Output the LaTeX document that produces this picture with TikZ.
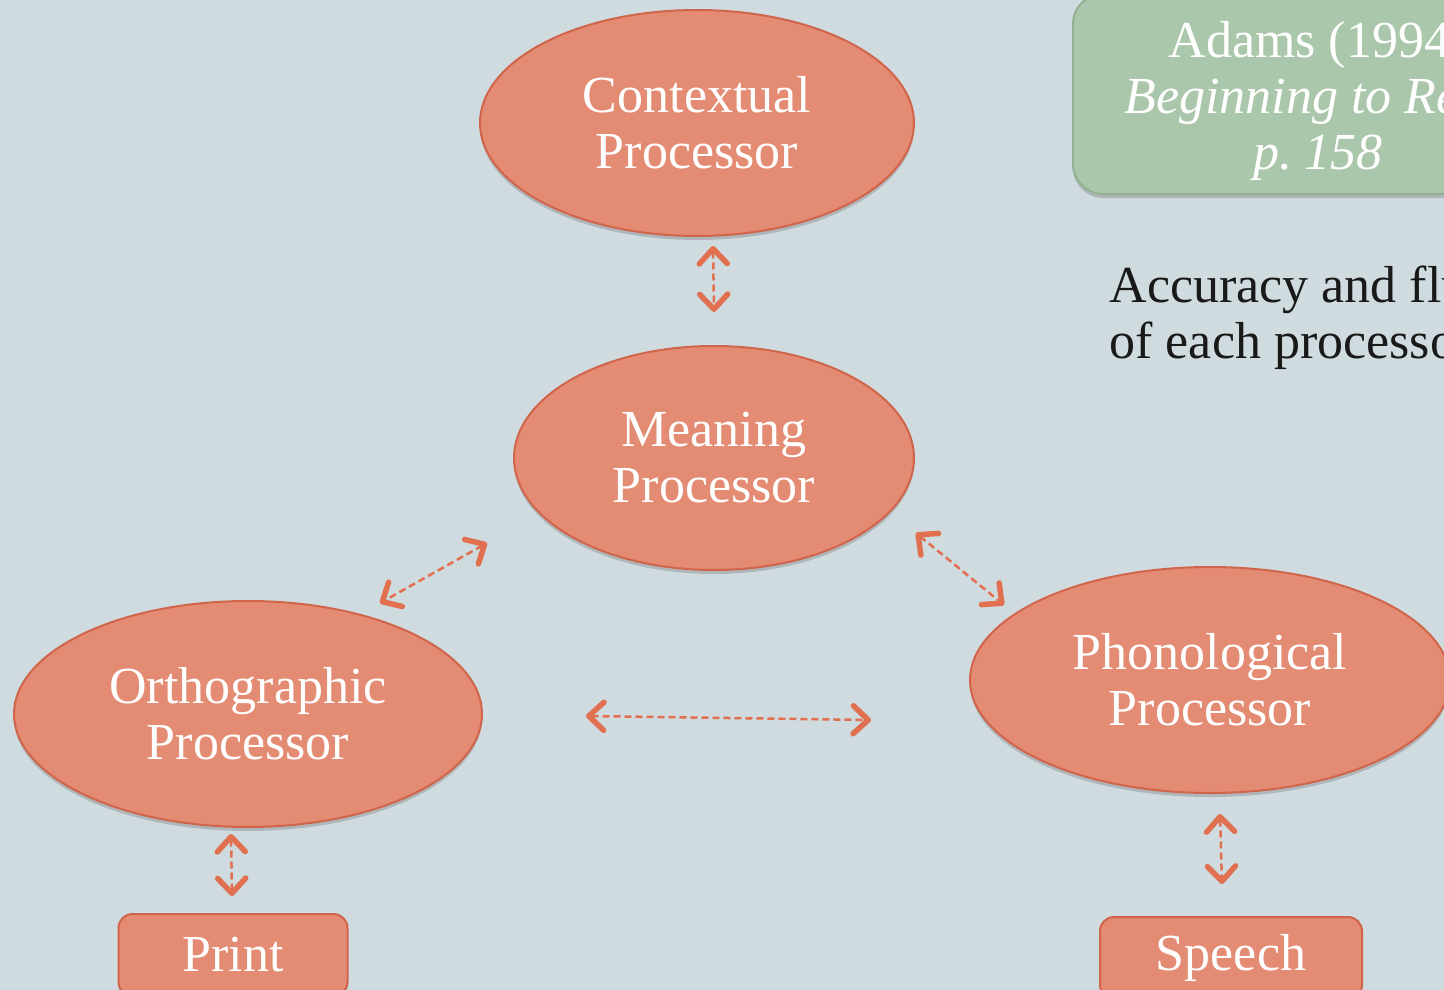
\documentclass[tikz,border=0pt]{standalone}
\usepackage{fontspec}
\setmainfont{Liberation Serif}
\usetikzlibrary{arrows.meta,shapes.geometric,shadows}

\definecolor{slate}{HTML}{CFDBDF}
\definecolor{salmon}{HTML}{E48B73}
\definecolor{salmonedge}{HTML}{D0654B}
\definecolor{linkred}{HTML}{E0704F}
\definecolor{sage}{HTML}{ABC7AB}
\definecolor{sageedge}{HTML}{93B093}

\tikzset{
  bigfont/.style={font=\fontsize{52}{56}\selectfont},
  processor/.style={ellipse, bigfont, fill=salmon, draw=salmonedge, line width=2pt,
    text=white, align=center, inner sep=0pt,
    drop shadow={shadow xshift=0pt, shadow yshift=-4pt, opacity=0.4}},
  endbox/.style={rectangle, rounded corners=14pt, bigfont, fill=salmon, draw=salmonedge,
    line width=2pt, text=white, inner sep=0pt,
    drop shadow={shadow xshift=0pt, shadow yshift=-4pt, opacity=0.4}},
  refbox/.style={rectangle, rounded corners=30pt, bigfont, fill=sage, draw=sageedge,
    line width=2pt, text=white, align=center, inner sep=0pt,
    drop shadow={shadow xshift=0pt, shadow yshift=-4pt, opacity=0.4}},
  link/.style={linkred, line width=2.5pt, dash pattern=on 7pt off 4pt,
    {Straight Barb[length=15pt, width=28pt, line width=5.5pt, round]}-{Straight Barb[length=15pt, width=28pt, line width=5.5pt, round]}}
}

\begin{document}
\begin{tikzpicture}[x=1pt, y=-1pt]
\useasboundingbox (0,0) rectangle (1444,990);
\clip (0,0) rectangle (1444,990);
\fill[slate] (0,0) rectangle (1444,990);

\node[refbox, minimum width=490pt, minimum height=200pt] (adams) at (1318,94) {};
\node[bigfont, text=white, align=center] (adamstext) at (1318,101)
  {Adams (1994)\\ \textit{Beginning to Read}\\ \textit{p.~158}};
\node[bigfont, text=black!90, anchor=west, align=left] (accuracy) at (1106,318)
  {Accuracy and fluency\\ of each processor};

\node[processor, minimum width=434pt, minimum height=226pt] (ctx) at (697,123) {Contextual\\ Processor};
\node[processor, minimum width=400pt, minimum height=224pt] (mean) at (714,458) {Meaning\\ Processor};
\node[processor, minimum width=468pt, minimum height=226pt] (ortho) at (248,714) {Orthographic\\ Processor};
\node[processor, minimum width=480pt, minimum height=226pt] (phono) at (1210,680) {Phonological\\ Processor};
\node[endbox, minimum width=229pt, minimum height=82pt] (print) at (233,955) {Print};
\node[endbox, minimum width=262pt, minimum height=82pt] (speech) at (1231,958) {Speech};

\draw[link] ([xshift=16pt, yshift=-9pt]ctx.south) -- ([yshift=33pt]mean.north);
\draw[link] ([xshift=-26pt, yshift=-85pt]mean.west) -- ([xshift=132pt, yshift=-3pt]ortho.north);
\draw[link] ([xshift=1pt, yshift=-75pt]mean.east) -- ([xshift=35pt, yshift=75pt]phono.west);
\draw[link] ([xshift=103pt, yshift=-2pt]ortho.east) -- ([xshift=-98pt, yshift=-40pt]phono.west);
\draw[link] ([xshift=-17pt, yshift=-6pt]ortho.south) -- ([xshift=-1pt, yshift=17pt]print.north);
\draw[link] ([xshift=10pt, yshift=-20pt]phono.south) -- ([xshift=-9pt, yshift=32pt]speech.north);
\end{tikzpicture}
\end{document}
